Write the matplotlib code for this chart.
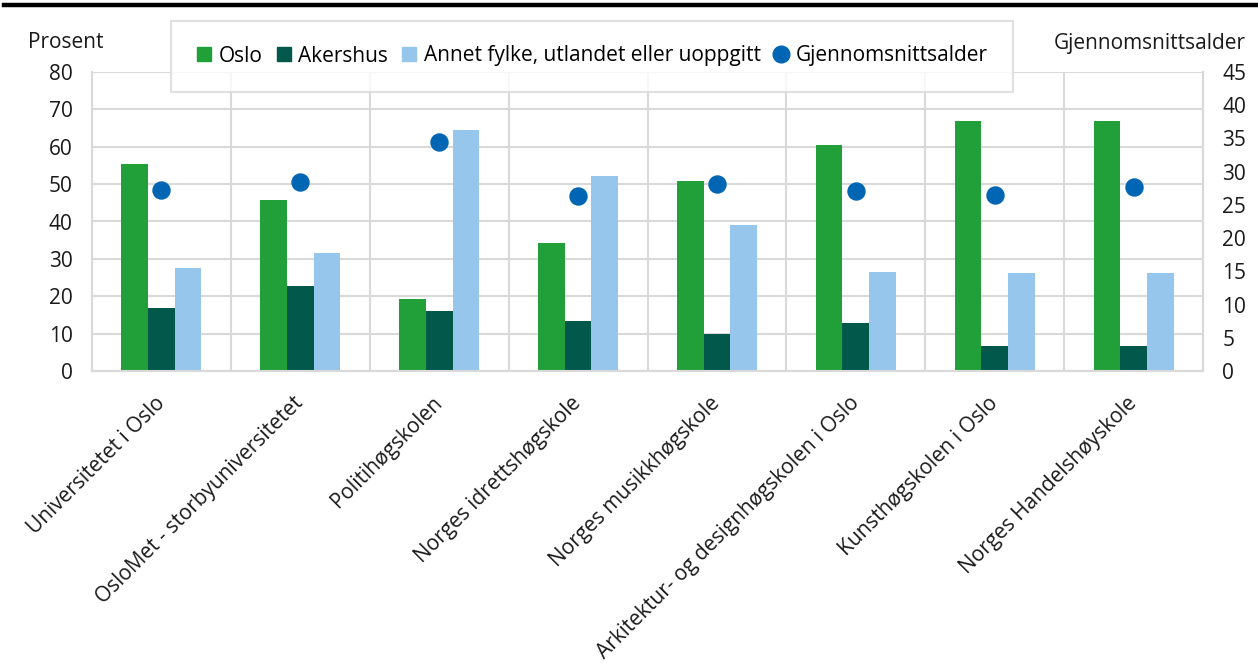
import numpy as np
from matplotlib import pyplot as plt
from matplotlib.lines import Line2D

plt.rcParams['font.family'] = ['Open Sans', 'DejaVu Sans']

schools = ['Universitetet i Oslo', 'OsloMet - storbyuniversitetet', 'Politihøgskolen',
           'Norges idrettshøgskole', 'Norges musikkhøgskole',
           'Arkitektur- og designhøgskolen i Oslo', 'Kunsthøgskolen i Oslo',
           'Norges Handelshøyskole']
oslo = [55.3, 45.7, 19.3, 34.2, 50.8, 60.4, 66.8, 66.8]
akershus = [16.9, 22.7, 16.0, 13.4, 10.0, 12.8, 6.6, 6.6]
annet = [27.5, 31.5, 64.6, 52.3, 39.0, 26.5, 26.1, 26.1]
snittalder = [27.3, 28.4, 34.5, 26.4, 28.1, 27.1, 26.5, 27.7]

c_oslo = '#21a03a'
c_akershus = '#02584a'
c_annet = '#96c6eb'
c_dot = '#0066b3'
grid_c = '#d9d9d9'
fs = 15

fig = plt.figure(figsize=(12.58, 6.64), dpi=100)
ax = fig.add_axes([92/1258, 1 - 371/664, (1203 - 92)/1258, (371 - 72)/664])
ax2 = ax.twinx()

index = np.arange(len(schools))
bar_width = 0.192
ax.bar(index - bar_width, oslo, bar_width, color=c_oslo, label='Oslo', zorder=3)
ax.bar(index, akershus, bar_width, color=c_akershus, label='Akershus', zorder=3)
ax.bar(index + bar_width, annet, bar_width, color=c_annet,
       label='Annet fylke, utlandet eller uoppgitt', zorder=3)
ax2.scatter(index, snittalder, s=150, color=c_dot, label='Gjennomsnittsalder', zorder=4)

ax.set_xlim(-0.5, len(schools) - 0.5)
ax.set_ylim(0, 80)
ax.set_yticks(np.arange(0, 81, 10))
ax2.set_ylim(0, 45)
ax2.set_yticks(np.arange(0, 46, 5))

ax.yaxis.grid(True, color=grid_c, linewidth=1.5, zorder=0)
ax.set_axisbelow(True)
for x in index[:-1] + 0.5:
    ax.axvline(x, color=grid_c, linewidth=1.5, zorder=0)

for a in (ax, ax2):
    a.spines['top'].set_visible(False)
    for s in ('left', 'right', 'bottom'):
        a.spines[s].set_color(grid_c)
        a.spines[s].set_linewidth(1.5)
    a.tick_params(length=0, labelsize=fs, colors='#1a1a1a')
ax.tick_params(axis='y', pad=14)
ax2.tick_params(axis='y', pad=14)

ax.set_xticks(index)
ax.set_xticklabels(schools, rotation=45, ha='right', va='center',
                   rotation_mode='anchor', fontsize=fs)
ax.tick_params(axis='x', pad=21)

fig.text(66/1258, 1 - 42/664, 'Prosent', ha='center', va='center', fontsize=fs, color='#1a1a1a')
fig.text(1150/1258, 1 - 44/664, 'Gjennomsnittsalder', ha='center', va='center',
         fontsize=fs, color='#1a1a1a')

handles = [Line2D([], [], marker='s', linestyle='none', color=c_oslo, markersize=10),
           Line2D([], [], marker='s', linestyle='none', color=c_akershus, markersize=10),
           Line2D([], [], marker='s', linestyle='none', color=c_annet, markersize=10),
           Line2D([], [], marker='o', linestyle='none', color=c_dot, markersize=12)]
labels = ['Oslo', 'Akershus', 'Annet fylke, utlandet eller uoppgitt', 'Gjennomsnittsalder']
leg = fig.legend(handles, labels, loc='center', bbox_to_anchor=(592/1258, 1 - 56/664),
                 ncol=4, fontsize=fs, frameon=True, fancybox=False, handlelength=0.8,
                 handletextpad=0.3, columnspacing=0.6, borderpad=1.2, borderaxespad=0)
leg.get_frame().set_edgecolor(grid_c)
leg.get_frame().set_linewidth(1.5)

fig.add_artist(Line2D([0.003, 1], [1 - 5/664, 1 - 5/664], color='black', linewidth=3.2))

plt.savefig('out.png', dpi=100)
plt.close()
